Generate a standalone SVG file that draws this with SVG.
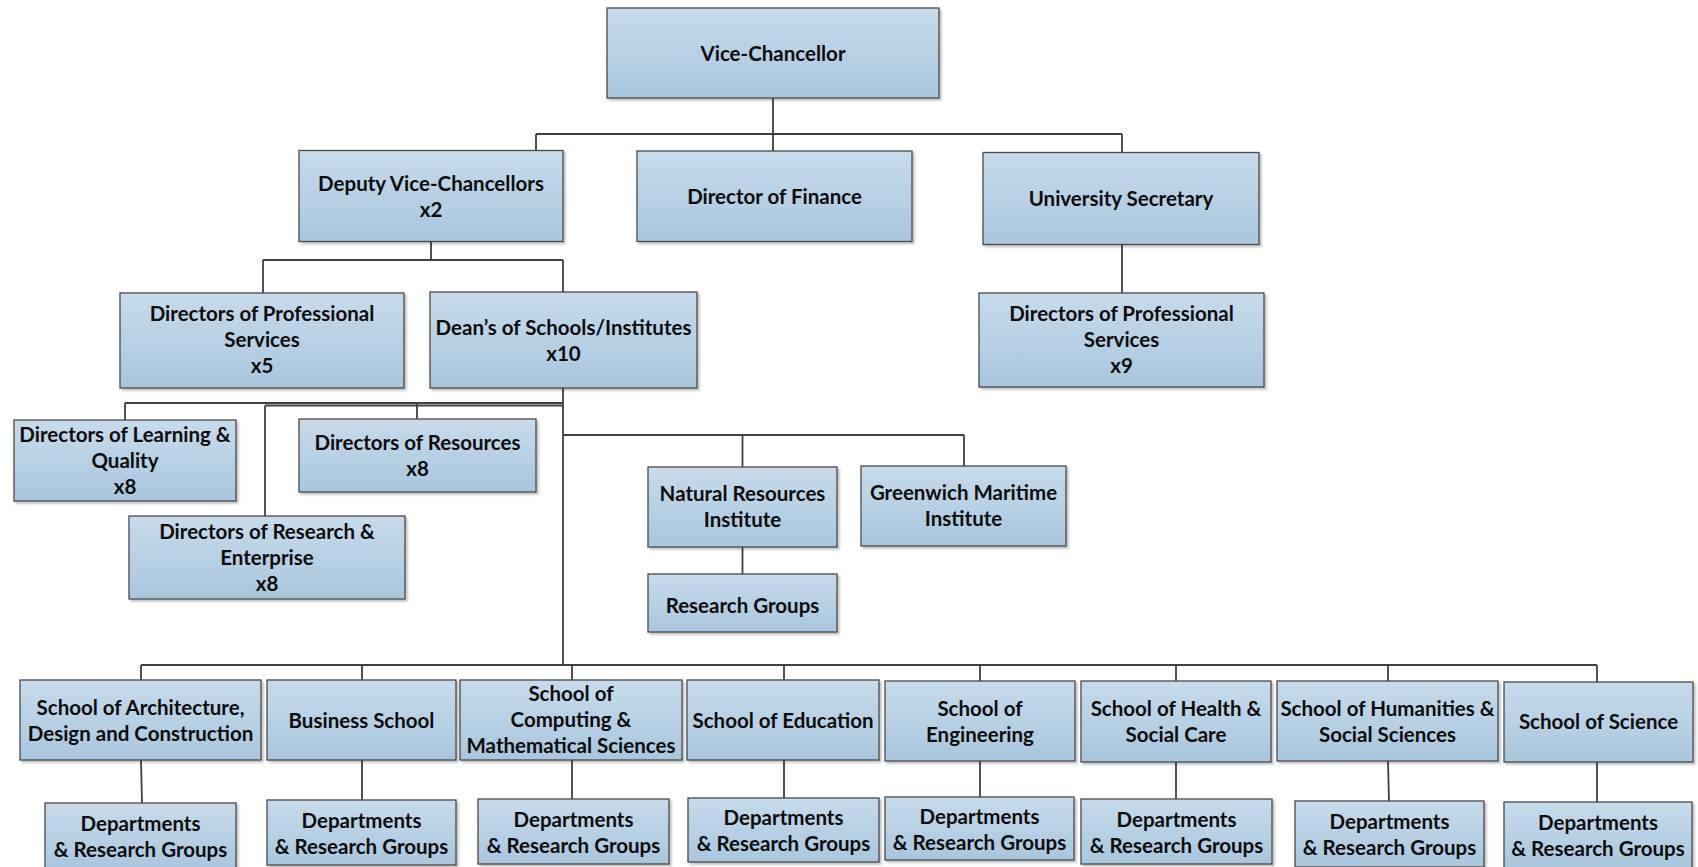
<svg xmlns="http://www.w3.org/2000/svg" width="1698" height="867" viewBox="0 0 1698 867">
<defs>
<linearGradient id="g" x1="0" y1="0" x2="0" y2="1">
<stop offset="0" stop-color="#c7dbeb"/>
<stop offset="1" stop-color="#a9c6de"/>
</linearGradient>
<filter id="sh" x="-5%" y="-5%" width="115%" height="120%">
<feDropShadow dx="2" dy="2" stdDeviation="1" flood-color="#000" flood-opacity="0.25"/>
</filter>
</defs>
<style>
rect{fill:url(#g);stroke:#4a4a4a;stroke-width:1.3;filter:url(#sh)}
text{font-family:Lato,"Liberation Sans",sans-serif;font-weight:bold;font-size:20.5px;fill:#0d0d0d;text-anchor:middle}
#connectors path{fill:none;stroke:#404040;stroke-width:1.8}
</style>
<rect width="1698" height="867" fill="#fff" style="fill:#fff;stroke:none;filter:none"/>
<g id="connectors">
<path d="M773 98V134M536 134H1122M536 134V150.5M773 134V151M1122 134V152.5"/>
<path d="M431 241.5V260M263 260H563M263 260V293M563 260V292"/>
<path d="M1122 244.5V293"/>
<path d="M563 388V665M125 403H563M125 403V420M417 403V419M265 405.5H563M265 405.5V516"/>
<path d="M563 435H964M742.5 435V467M964 435V466M742.5 547V574"/>
<path d="M141 665H1597M141 665V680M362 665V680M572 665V680M784 665V680M980 665V681M1176 665V681M1388 665V681M1597 665V682"/>
<path d="M141 760L142 803M362 760V800M572 760V799M784 760V798M980 761V797M1176 762V799M1388 761L1389 801M1597 762V802"/>
</g>
<g id="vc"><rect x="607" y="8" width="332" height="90"/><text x="773" y="60.5">Vice-Chancellor</text></g>
<g id="dvc"><rect x="299" y="150.5" width="264" height="91"/><text x="431" y="190.5">Deputy Vice-Chancellors</text><text x="431" y="216.5">x2</text></g>
<g id="dof"><rect x="637" y="151" width="275" height="90.5"/><text x="774.5" y="203.5">Director of Finance</text></g>
<g id="us"><rect x="983" y="152.5" width="276" height="92"/><text x="1121" y="205.5">University Secretary</text></g>
<g id="dps5"><rect x="120" y="293" width="284" height="95"/><text x="262" y="321">Directors of Professional</text><text x="262" y="347">Services</text><text x="262" y="373">x5</text></g>
<g id="deans"><rect x="430" y="292" width="267" height="96"/><text x="563.5" y="334.5">Dean’s of Schools/Institutes</text><text x="563.5" y="360.5">x10</text></g>
<g id="dps9"><rect x="979" y="293" width="285" height="94"/><text x="1121.5" y="320.5">Directors of Professional</text><text x="1121.5" y="346.5">Services</text><text x="1121.5" y="372.5">x9</text></g>
<g id="dlq"><rect x="14" y="420" width="222" height="81"/><text x="125" y="441.5">Directors of Learning &amp;</text><text x="125" y="467.5">Quality</text><text x="125" y="493.5">x8</text></g>
<g id="dres"><rect x="299" y="419" width="237" height="73"/><text x="417.5" y="449.5">Directors of Resources</text><text x="417.5" y="475.5">x8</text></g>
<g id="dre"><rect x="129" y="516" width="276" height="83"/><text x="267" y="539">Directors of Research &amp;</text><text x="267" y="565">Enterprise</text><text x="267" y="591">x8</text></g>
<g id="nri"><rect x="648" y="467" width="189" height="80"/><text x="742.5" y="501">Natural Resources</text><text x="742.5" y="527">Institute</text></g>
<g id="gmi"><rect x="861" y="466" width="205" height="80"/><text x="963.5" y="500">Greenwich Maritime</text><text x="963.5" y="526">Institute</text></g>
<g id="rg"><rect x="648" y="574" width="189" height="58"/><text x="742.5" y="612.5">Research Groups</text></g>
<g id="s-arch"><rect x="20" y="680" width="241" height="80"/><text x="140.5" y="714.5">School of Architecture,</text><text x="140.5" y="740.5">Design and Construction</text></g>
<g id="s-bus"><rect x="267" y="680" width="189" height="80"/><text x="361.5" y="727.5">Business School</text></g>
<g id="s-comp"><rect x="460" y="680" width="222" height="80"/><text x="571" y="700.5">School of</text><text x="571" y="726.5">Computing &amp;</text><text x="571" y="752.5">Mathematical Sciences</text></g>
<g id="s-edu"><rect x="687" y="680" width="192" height="80"/><text x="783" y="727.5">School of Education</text></g>
<g id="s-eng"><rect x="885" y="681" width="190" height="80"/><text x="980" y="715.5">School of</text><text x="980" y="741.5">Engineering</text></g>
<g id="s-hsc"><rect x="1081" y="681" width="190" height="81"/><text x="1176" y="715.5">School of Health &amp;</text><text x="1176" y="741.5">Social Care</text></g>
<g id="s-hum"><rect x="1277" y="681" width="221" height="80"/><text x="1387.5" y="715.5">School of Humanities &amp;</text><text x="1387.5" y="741.5">Social Sciences</text></g>
<g id="s-sci"><rect x="1504" y="682" width="189" height="80"/><text x="1598.5" y="728.5">School of Science</text></g>
<g id="d-arch"><rect x="45" y="803" width="191" height="66"/><text x="140.5" y="830.5">Departments</text><text x="140.5" y="856.5">&amp; Research Groups</text></g>
<g id="d-bus"><rect x="267" y="800" width="189" height="65"/><text x="361.5" y="827.5">Departments</text><text x="361.5" y="853.5">&amp; Research Groups</text></g>
<g id="d-comp"><rect x="478" y="799" width="191" height="65"/><text x="573.5" y="826.5">Departments</text><text x="573.5" y="852.5">&amp; Research Groups</text></g>
<g id="d-edu"><rect x="688" y="798" width="191" height="64"/><text x="783.5" y="824.5">Departments</text><text x="783.5" y="850.5">&amp; Research Groups</text></g>
<g id="d-eng"><rect x="885" y="797" width="189" height="63"/><text x="979.5" y="823.5">Departments</text><text x="979.5" y="849.5">&amp; Research Groups</text></g>
<g id="d-hsc"><rect x="1081" y="799" width="191" height="65"/><text x="1176.5" y="826.5">Departments</text><text x="1176.5" y="852.5">&amp; Research Groups</text></g>
<g id="d-hum"><rect x="1295" y="801" width="189" height="66"/><text x="1389.5" y="828.5">Departments</text><text x="1389.5" y="854.5">&amp; Research Groups</text></g>
<g id="d-sci"><rect x="1504" y="802" width="188" height="66"/><text x="1598" y="829.5">Departments</text><text x="1598" y="855.5">&amp; Research Groups</text></g>
</svg>
